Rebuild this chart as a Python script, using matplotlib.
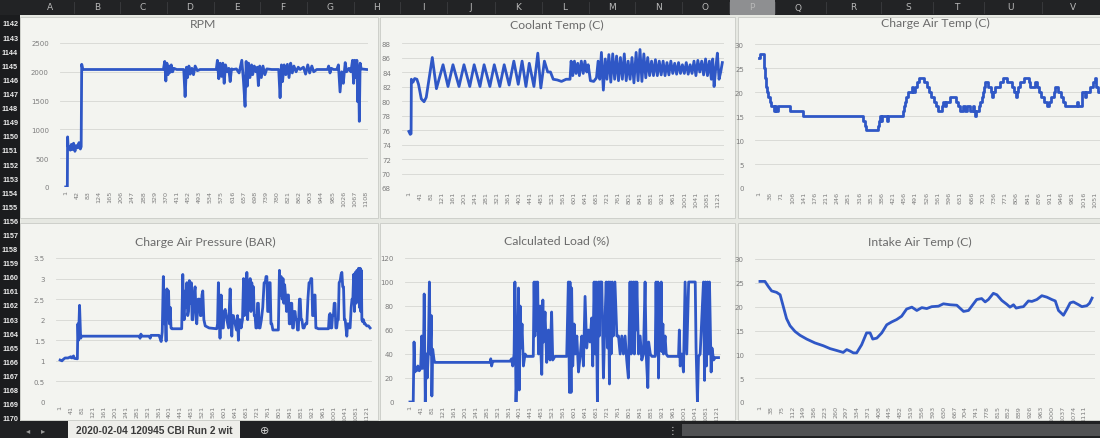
import matplotlib
matplotlib.use("Agg")
import matplotlib.pyplot as plt
from matplotlib.patches import Rectangle

# ---------------- data (sample index, value) ----------------
rpm_idx = [1, 7, 8, 10, 14, 18, 22, 26, 30, 35, 40, 45, 50, 55, 58, 60, 64, 361, 366, 370, 374, 378, 382, 386, 390,
           395, 400, 410, 436, 441, 446, 450, 455, 460, 466, 472, 478, 486, 496, 556, 560, 565, 570, 575, 580, 585,
           590, 596, 602, 607, 612, 619, 630, 640, 650, 656, 662, 666, 670, 675, 680, 686, 690, 696, 702, 707, 711,
           716, 722, 728, 735, 742, 760, 786, 791, 796, 800, 806, 812, 818, 824, 830, 836, 842, 850, 858, 865, 877,
           885, 893, 900, 908, 915, 926, 966, 970, 975, 980, 988, 1000, 1006, 1012, 1018, 1024, 1031, 1036, 1045,
           1052, 1058, 1062, 1066, 1070, 1074, 1077, 1080, 1083, 1086, 1090, 1110]
rpm_val = [0, 0, 870, 700, 700, 640, 740, 650, 760, 620, 720, 680, 770, 660, 700, 2130, 2040, 2040, 2180, 1840,
           2150, 1950, 2100, 1990, 2120, 2000, 2060, 2040, 2040, 1570, 2080, 1900, 2100, 1960, 2060, 1950, 2100,
           2020, 2040, 2040, 2200, 1880, 2150, 1920, 2150, 1800, 2120, 2000, 2060, 1830, 2050, 2040, 2050, 1980,
           2200, 1850, 1400, 2180, 1750, 2150, 1900, 2120, 1950, 2100, 2000, 2080, 1760, 2100, 1900, 2100, 1950,
           2050, 2040, 2040, 1550, 2120, 1830, 2120, 1950, 2130, 1900, 2150, 1980, 2100, 2000, 2080, 2040, 2080,
           1960, 2120, 1980, 2100, 2000, 2040, 2040, 2100, 1980, 2060, 2040, 2040, 2120, 1650, 2000, 1800, 2160,
           2000, 2060, 2000, 2200, 1800, 2200, 1900, 2200, 1480, 2100, 1140, 2150, 2050, 2040]

cool_idx = [1, 6, 9, 10, 16, 22, 30, 36, 46, 56, 64, 86, 101, 125, 143, 161, 183, 201, 222, 238, 259, 274, 295,
            311, 331, 347, 365, 382, 398, 412, 426, 438, 455, 469, 480, 493, 505, 515, 525, 540, 555, 572, 586,
            590, 596, 602, 608, 614, 620, 627, 634, 640, 647, 652, 660, 672, 682, 688, 694, 700, 707, 714, 720,
            727, 734, 741, 748, 755, 762, 769, 776, 783, 790, 797, 804, 811, 818, 826, 833, 840, 847, 854, 861,
            868, 875, 882, 889, 896, 903, 910, 917, 924, 931, 938, 945, 952, 959, 966, 973, 980, 987, 994, 1001,
            1008, 1015, 1022, 1029, 1036, 1043, 1050, 1057, 1064, 1071, 1078, 1085, 1092, 1099, 1104, 1109, 1115,
            1121, 1127, 1133, 1139]
cool_val = [75.8, 75.4, 75.5, 83.0, 82.6, 83.1, 83.0, 82.3, 80.3, 79.9, 80.5, 86.0, 81.7, 85.0, 82.0, 85.0, 82.0,
            85.0, 82.0, 85.0, 82.0, 85.0, 82.0, 85.0, 82.0, 85.0, 82.2, 85.5, 82.3, 85.5, 82.0, 85.2, 82.0, 86.6,
            81.8, 85.5, 84.0, 84.0, 83.0, 82.9, 82.7, 83.0, 83.0, 85.5, 83.5, 85.5, 83.8, 85.2, 83.5, 85.5, 83.8,
            85.5, 84.0, 85.0, 82.8, 82.7, 83.2, 85.5, 83.0, 86.7, 81.5, 85.8, 83.0, 86.4, 82.6, 86.5, 83.0, 86.2,
            82.8, 86.0, 83.0, 86.5, 82.8, 85.5, 83.0, 86.0, 82.5, 86.7, 82.8, 87.1, 82.7, 86.5, 83.2, 86.0, 83.5,
            85.5, 83.5, 85.7, 83.5, 85.5, 83.6, 85.5, 83.5, 85.3, 83.6, 85.5, 83.8, 85.2, 83.7, 85.3, 83.8, 85.0,
            83.8, 85.3, 83.7, 85.0, 83.8, 85.5, 83.5, 85.6, 84.0, 85.5, 83.6, 85.8, 83.5, 85.5, 83.0, 85.8, 82.0,
            84.5, 86.6, 83.0, 84.0, 85.3]

cat_idx = [1, 4, 16, 18, 21, 24, 27, 31, 35, 40, 47, 52, 55, 60, 97, 133, 139, 326, 332, 337, 373, 376, 381, 384,
           387, 402, 404, 451, 454, 458, 462, 466, 480, 484, 488, 495, 501, 516, 525, 533, 540, 547, 554, 561, 572,
           577, 582, 587, 597, 606, 618, 623, 629, 640, 645, 652, 660, 670, 674, 676, 681, 689, 693, 697, 700, 704,
           707, 717, 725, 730, 733, 738, 754, 764, 777, 793, 798, 804, 808, 812, 816, 831, 846, 848, 863, 869, 877,
           884, 891, 900, 908, 915, 922, 926, 936, 944, 950, 957, 994, 997, 1012, 1020, 1024, 1035, 1044, 1051,
           1054, 1060, 1067]
cat_val = [27, 28, 27, 25, 23, 21, 20, 19, 18, 17, 16, 17, 16, 17, 16, 16, 15, 14, 13, 12, 13, 14, 15, 14, 15, 14,
           15, 16, 17, 18, 19, 20, 21, 20, 21, 22, 23, 22, 21, 20, 19, 18, 17, 16, 17, 18, 17, 18, 19, 19, 18, 17,
           16, 17, 16, 17, 16, 17, 16, 15, 16, 17, 18, 19, 20, 21, 22, 21, 20, 19, 20, 21, 22, 23, 22, 21, 20, 19,
           20, 21, 22, 23, 22, 21, 22, 21, 20, 19, 18, 17, 18, 19, 20, 21, 20, 19, 18, 17, 18, 17, 20, 19, 20, 21,
           22, 23, 21, 20, 20]

pres_idx = [1, 8, 10, 19, 30, 40, 44, 50, 53, 64, 66, 68, 72, 76, 80, 290, 293, 296, 300, 326, 330, 333, 362, 366,
            370, 374, 378, 381, 384, 388, 391, 394, 397, 400, 403, 406, 409, 445, 449, 452, 454, 458, 461, 464, 467,
            470, 473, 476, 480, 483, 486, 490, 494, 497, 500, 505, 510, 513, 516, 519, 522, 526, 531, 545, 573, 576,
            579, 582, 585, 589, 593, 597, 600, 604, 610, 616, 622, 625, 628, 631, 634, 640, 645, 649, 652, 655, 658,
            662, 667, 671, 674, 677, 680, 683, 686, 689, 692, 695, 698, 701, 704, 707, 710, 713, 716, 719, 722, 725,
            728, 731, 736, 741, 746, 750, 753, 756, 759, 762, 765, 768, 771, 774, 778, 798, 802, 805, 808, 812, 815,
            818, 821, 824, 828, 831, 835, 838, 841, 844, 847, 850, 853, 856, 859, 862, 865, 868, 871, 875, 878, 881,
            884, 888, 892, 897, 902, 906, 910, 914, 917, 920, 923, 926, 929, 932, 935, 938, 944, 981, 984, 987, 990,
            993, 996, 999, 1002, 1005, 1008, 1011, 1014, 1017, 1020, 1024, 1027, 1030, 1033, 1036, 1039, 1042,
            1045, 1048, 1051, 1054, 1057, 1060, 1064, 1067, 1070, 1073, 1076, 1079, 1082, 1085, 1088, 1091, 1094,
            1097, 1099, 1101, 1103, 1106, 1109, 1112, 1115, 1121, 1127, 1133]
pres_val = [1.02, 1.00, 1.02, 1.07, 1.07, 1.10, 1.07, 1.12, 1.06, 1.05, 1.90, 1.50, 2.35, 1.55, 1.60, 1.60, 1.55,
            1.65, 1.60, 1.60, 1.55, 1.62, 1.62, 1.55, 1.47, 1.70, 3.05, 1.90, 2.40, 1.48, 2.75, 2.00, 2.70, 1.90,
            2.30, 1.80, 1.78, 1.78, 3.10, 2.20, 2.00, 2.70, 2.30, 2.90, 2.10, 2.20, 2.95, 2.40, 2.90, 2.00, 2.00,
            2.60, 2.80, 2.20, 1.90, 2.50, 2.50, 2.10, 2.10, 2.60, 2.70, 2.00, 1.85, 1.80, 1.78, 1.90, 2.90, 2.20,
            1.55, 2.60, 1.80, 1.80, 2.20, 2.25, 2.00, 1.80, 2.75, 2.00, 1.60, 2.10, 2.10, 1.90, 1.75, 2.10, 1.50,
            2.00, 2.00, 1.80, 2.00, 3.00, 2.10, 2.80, 2.20, 3.15, 2.00, 2.90, 2.40, 3.00, 2.20, 2.90, 2.50, 2.80,
            2.10, 2.10, 1.80, 1.80, 2.40, 2.40, 1.80, 1.80, 2.00, 2.30, 2.90, 2.90, 3.05, 3.05, 2.20, 2.20, 2.90,
            2.90, 1.90, 1.90, 1.75, 1.75, 3.20, 2.60, 3.05, 2.50, 3.00, 2.40, 2.85, 2.60, 2.20, 2.60, 2.60, 1.90,
            1.90, 2.40, 2.40, 1.80, 1.80, 2.20, 2.20, 2.00, 2.00, 1.75, 1.75, 2.50, 2.50, 2.00, 2.00, 1.80, 1.80,
            1.90, 1.90, 2.50, 2.90, 2.90, 3.00, 3.00, 2.10, 2.10, 2.60, 2.60, 1.80, 1.80, 1.78, 1.78, 2.10, 2.15,
            1.80, 1.80, 2.10, 2.10, 2.40, 2.40, 1.80, 1.80, 2.00, 2.00, 2.90, 2.95, 3.10, 3.15, 2.80, 2.80, 2.00,
            2.00, 1.80, 1.60, 1.90, 1.90, 1.80, 1.80, 2.30, 2.50, 2.50, 3.10, 2.20, 3.15, 2.40, 3.20, 2.60, 3.25,
            2.30, 3.25, 2.20, 3.20, 2.00, 1.95, 2.00, 1.90, 1.90, 1.85, 1.85, 1.80]

load_idx = [1, 13, 16, 19, 22, 25, 30, 35, 40, 44, 47, 50, 53, 57, 60, 62, 64, 68, 72, 75, 79, 81, 84, 89, 92, 293,
            296, 299, 302, 305, 366, 372, 376, 381, 384, 388, 393, 397, 400, 403, 406, 410, 415, 421, 427, 451, 454,
            457, 461, 464, 467, 470, 476, 479, 482, 486, 488, 494, 498, 500, 506, 512, 518, 522, 530, 573, 579, 583,
            585, 589, 591, 595, 600, 604, 610, 616, 622, 628, 634, 640, 646, 652, 658, 664, 668, 673, 677, 680, 685,
            689, 692, 694, 701, 707, 711, 717, 722, 725, 729, 731, 735, 739, 743, 749, 756, 762, 768, 774, 780, 786,
            792, 798, 804, 808, 810, 814, 817, 820, 823, 826, 829, 835, 841, 847, 853, 859, 863, 869, 872, 878, 884,
            896, 899, 902, 906, 908, 912, 914, 918, 920, 924, 926, 932, 936, 942, 951, 981, 984, 987, 993, 999,
            1005, 1011, 1018, 1042, 1045, 1050, 1054, 1060, 1072, 1076, 1079, 1083, 1087, 1091, 1094, 1097, 1100,
            1103, 1109, 1115, 1127]
load_val = [0, 0, 50, 25, 28, 26, 30, 26, 28, 55, 28, 30, 90, 0, 40, 40, 20, 40, 100, 40, 72, 5, 44, 35, 33, 33, 36,
            30, 33, 34, 34, 36, 30, 40, 100, 0, 40, 95, 10, 80, 45, 65, 30, 40, 38, 38, 100, 55, 100, 60, 100, 40,
            80, 40, 23, 85, 50, 75, 45, 33, 60, 35, 75, 35, 38, 38, 100, 8, 100, 8, 95, 30, 65, 40, 55, 25, 38, 55,
            30, 88, 45, 60, 50, 70, 30, 100, 40, 100, 0, 100, 55, 100, 100, 20, 55, 100, 45, 100, 15, 100, 40, 100,
            55, 100, 55, 55, 40, 55, 40, 55, 35, 20, 100, 40, 100, 60, 100, 40, 100, 60, 100, 40, 55, 35, 40, 100,
            40, 12, 50, 40, 38, 38, 100, 40, 100, 20, 95, 45, 100, 42, 65, 40, 55, 40, 38, 38, 38, 60, 30, 40, 25,
            100, 40, 100, 100, 45, 0, 38, 40, 100, 18, 100, 30, 100, 40, 100, 60, 25, 45, 35, 37, 37]

iat_idx = [1, 18, 30, 41, 58, 70, 81, 92, 104, 121, 138, 161, 189, 218, 241, 264, 286, 298, 309, 321, 332, 349, 366,
           378, 387, 401, 418, 435, 452, 469, 486, 503, 521, 538, 555, 572, 589, 612, 629, 652, 675, 698, 715, 732,
           743, 760, 772, 783, 800, 812, 829, 846, 857, 869, 878, 892, 903, 920, 932, 949, 966, 983, 1000, 1012,
           1023, 1040, 1052, 1063, 1074, 1092, 1103, 1120, 1129, 1138]
iat_val = [25.3, 25.3, 24.2, 23.3, 23.0, 22.5, 20.0, 17.5, 16.0, 14.8, 14.0, 13.2, 12.4, 11.8, 11.2, 10.8, 10.4,
           11.0, 10.7, 10.3, 10.3, 12.0, 14.5, 14.5, 13.2, 13.4, 14.5, 16.2, 16.8, 17.3, 18.0, 19.5, 19.9, 19.2,
           19.8, 19.6, 20.0, 20.1, 20.6, 20.4, 20.3, 19.0, 19.2, 20.6, 21.5, 21.7, 21.0, 21.5, 22.8, 22.5, 21.3,
           20.5, 19.9, 20.4, 19.7, 19.9, 20.0, 21.2, 21.1, 21.5, 22.3, 22.0, 21.5, 21.2, 19.2, 18.2, 19.5, 20.8,
           21.0, 20.4, 20.0, 20.2, 20.7, 21.8]

titles = ["RPM", "Coolant Temp (C)", "Charge Air Temp (C)",
          "Charge Air Pressure (BAR)", "Calculated Load (%)", "Intake Air Temp (C)"]
rpm_ticks = list(range(1, 1109, 41))
cool_ticks = list(range(1, 1122, 40))
cat_ticks = list(range(1, 1052, 35))
pres_ticks = list(range(1, 1122, 40))
load_ticks = list(range(1, 1122, 40))
iat_ticks = list(range(1, 1112, 37))
rpm_y = [0, 500, 1000, 1500, 2000, 2500]
cool_y = [68, 70, 72, 74, 76, 78, 80, 82, 84, 86, 88]
cat_y = [0, 5, 10, 15, 20, 25, 30]
pres_y = [0, 0.5, 1, 1.5, 2, 2.5, 3, 3.5]
load_y = [0, 20, 40, 60, 80, 100, 120]
iat_y = [0, 5, 10, 15, 20, 25, 30]

col_letters = list("ABCDEFGHIJKLMNOPQRSTUV")
row_numbers = list(range(1142, 1171))
sheet_tab = "2020-02-04 120945 CBI Run 2 wit"

# ---------------- layout ----------------
W, H = 1100, 439
fig = plt.figure(figsize=(W / 100, H / 100), dpi=100)
fig.patch.set_facecolor("#e6e8e2")


def frect(x0, y0, x1, y1):
    return [x0 / W, 1 - y1 / H, (x1 - x0) / W, (y1 - y0) / H]


def fpt(x, y):
    return x / W, 1 - y / H


def box(x0, y0, x1, y1, color, z, edge="none", lw=0):
    r = frect(x0, y0, x1, y1)
    fig.add_artist(Rectangle((r[0], r[1]), r[2], r[3], transform=fig.transFigure,
                             facecolor=color, edgecolor=edge, lw=lw, zorder=z))


# chart panels
for (x0, y0, x1, y1) in [(20, 18, 378, 219), (380, 18, 735, 219), (738, 18, 1100, 219),
                         (20, 224, 378, 421), (380, 224, 735, 421), (738, 224, 1100, 421)]:
    box(x0, y0, x1, y1, "#f3f4f0", 0, edge="#c9cbc6", lw=0.6)

LINE = "#2f57c6"
TXT = "#7d7d7d"

specs = [
    (rpm_idx, rpm_val, rpm_ticks, rpm_y, (60, 44, 368, 188), (-20, 1115), None, (203, 24)),
    (cool_idx, cool_val, cool_ticks, cool_y, (402, 44, 724, 189), (-24, 1145), None, (557, 25)),
    (cat_idx, cat_val, cat_ticks, cat_y, (755, 45, 1100, 189), (-11, 1067), "steps-post", (935, 23)),
    (pres_idx, pres_val, pres_ticks, pres_y, (56, 259, 372, 403), (-14, 1140), None, (205, 242)),
    (load_idx, load_val, load_ticks, load_y, (405, 259, 721, 403), (-17, 1136), None, (557, 241)),
    (iat_idx, iat_val, iat_ticks, iat_y, (755, 260, 1095, 403), (-16, 1148), None, (920, 242)),
]

for (xs, ys, xt, yt, bx, xl, ds, tpos), title in zip(specs, titles):
    ax = fig.add_axes(frect(*bx))
    ax.set_facecolor("none")
    ax.plot(xs, ys, color=LINE, lw=2.0, drawstyle=ds if ds else "default",
            solid_joinstyle="round", zorder=3)
    ax.set_xlim(*xl)
    ax.set_ylim(yt[0], yt[-1])
    ax.set_yticks(yt)
    ax.set_yticklabels([("%g" % v) for v in yt])
    ax.set_xticks(xt)
    ax.set_xticklabels([str(v) for v in xt], rotation=90)
    ax.tick_params(axis="both", length=0, colors=TXT)
    ax.tick_params(axis="y", labelsize=5, pad=8)
    ax.tick_params(axis="x", labelsize=4.6, pad=2)
    for s in ax.spines.values():
        s.set_visible(False)
    ax.grid(axis="y", color="#d6d7d3", lw=0.6)
    ax.set_axisbelow(True)
    tx, ty = fpt(*tpos)
    fig.text(tx, ty, title, ha="center", va="center", fontsize=8.8, color="#6b6b6b",
             family=["Lato", "DejaVu Sans"])

# ---------------- spreadsheet chrome ----------------
# header bar with column letters
box(0, 0, 1100, 16, "#222325", 5)
box(730, 0, 775, 16, "#8e8f91", 5)
col_x = [50, 97, 143, 190, 237, 283, 330, 377, 423, 471, 518, 565, 612, 658, 705, 752, 798, 853, 908, 957, 1010, 1073]
for i, (L, x) in enumerate(zip(col_letters, col_x)):
    tx, ty = fpt(x, 8)
    fig.text(tx, ty, L, ha="center", va="center", fontsize=6.5, color="#b8b8b8", zorder=6)
    if i < len(col_x) - 1:
        xm = (x + col_x[i + 1]) / 2
        fig.add_artist(plt.Line2D([xm / W, xm / W], [1 - 3 / H, 1 - 14 / H], transform=fig.transFigure,
                                  color="#3c3d40", lw=0.6, zorder=6))

# row numbers column
box(0, 16, 20, 422, "#1b1c1e", 5)
for n in row_numbers:
    tx, ty = fpt(10, 25 + (n - 1142) * 14.1)
    fig.text(tx, ty, str(n), ha="center", va="center", fontsize=5.2, color="#ececec",
             fontweight="bold", zorder=6, family=["Liberation Sans", "DejaVu Sans"])

# bottom bar with sheet tab
box(0, 422, 1100, 439, "#202123", 5)
box(68, 422, 240, 439, "#eeeeea", 6)
tx, ty = fpt(154, 431)
fig.text(tx, ty, sheet_tab, ha="center", va="center", fontsize=7.3, color="#3a3a3a",
         fontweight="bold", zorder=7, family=["Liberation Sans", "DejaVu Sans"])
for x, s in [(28, "◂"), (43, "▸")]:
    tx, ty = fpt(x, 431)
    fig.text(tx, ty, s, ha="center", va="center", fontsize=6, color="#9a9a9a", zorder=7)
tx, ty = fpt(265, 431)
fig.text(tx, ty, "⊕", ha="center", va="center", fontsize=8, color="#d0d0d0", zorder=7)
tx, ty = fpt(672, 431)
fig.text(tx, ty, "⋮", ha="center", va="center", fontsize=7, color="#d0d0d0", zorder=7)
box(682, 425, 1100, 437, "#515254", 6)

fig.savefig("out.png", dpi=100, facecolor=fig.get_facecolor())
